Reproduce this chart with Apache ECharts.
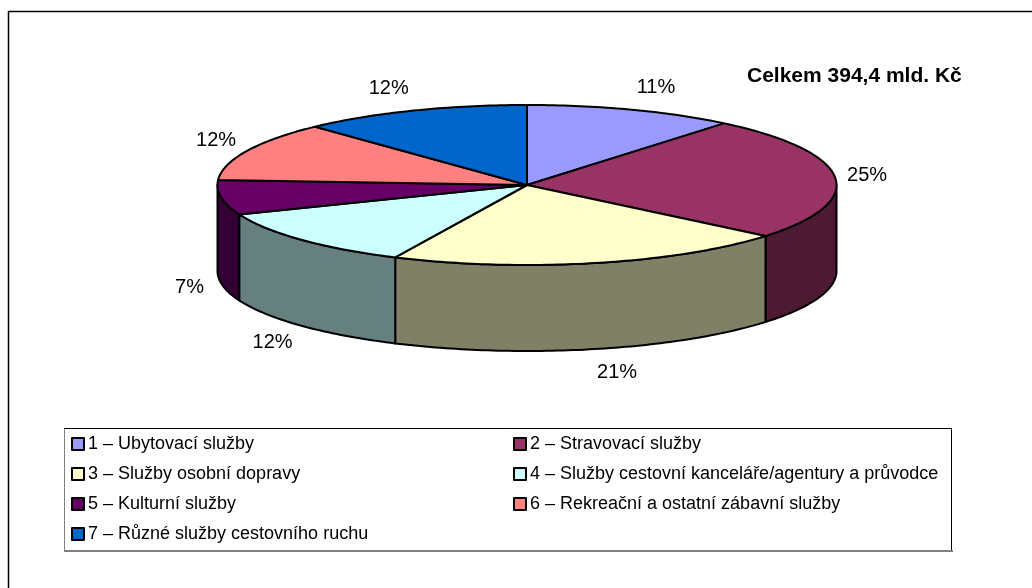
<!DOCTYPE html>
<html>
<head>
<meta charset="utf-8">
<script src="https://cdn.jsdelivr.net/npm/echarts@6/dist/echarts.min.js"></script>
<style>
html,body{margin:0;padding:0;background:#fff;}
#chart{width:1032px;height:588px;}
</style>
</head>
<body>
<div id="chart"></div>
<script>
// ---- data ----
const categories = [
  '1 – Ubytovací služby',
  '2 – Stravovací služby',
  '3 – Služby osobní dopravy',
  '4 – Služby cestovní kanceláře/agentury a průvodce',
  '5 – Kulturní služby',
  '6 – Rekreační a ostatní zábavní služby',
  '7 – Různé služby cestovního ruchu'
];
const shares = [11, 25, 21, 12, 7, 12, 12];
const topColors = ['#9999FF', '#993366', '#FFFFCC', '#CCFFFF', '#660066', '#FF8080', '#0066CC'];
const sideColors = ['#4D4D80', '#4D1A33', '#808066', '#668080', '#330033', '#804040', '#003366'];
const totalLabel = 'Celkem 394,4 mld. Kč';

// ---- layout ----
const CX = 527, CY = 185, RX = 309.5, RY = 80, DEPTH = 86;
const FONT = '"Liberation Sans", Arial, sans-serif';

const total = shares.reduce((a, b) => a + b, 0);

function pt(deg, dy) {
  const r = deg * Math.PI / 180;
  return [CX + RX * Math.sin(r), CY - RY * Math.cos(r) + (dy || 0)];
}
function arc(a0, a1, dy) {
  const pts = [];
  const n = Math.max(2, Math.ceil((a1 - a0) / 1));
  for (let k = 0; k <= n; k++) pts.push(pt(a0 + (a1 - a0) * k / n, dy));
  return pts;
}

function renderItem(params, api) {
  const i = params.dataIndex;
  const v = api.value(0);
  let start = 0;
  for (let j = 0; j < i; j++) start += shares[j];
  const a0 = start / total * 360;
  const a1 = (start + v) / total * 360;
  const children = [];
  const s0 = Math.max(a0, 90), s1 = Math.min(a1, 270);
  if (s1 > s0) {
    const topArc = arc(s0, s1, 0);
    const botArc = arc(s0, s1, DEPTH).reverse();
    children.push({
      type: 'polygon', z2: 1,
      shape: { points: topArc.concat(botArc) },
      style: { fill: sideColors[i], stroke: '#000', lineWidth: 2, lineJoin: 'round' }
    });
  }
  children.push({
    type: 'polygon', z2: 2,
    shape: { points: [[CX, CY]].concat(arc(a0, a1, 0)) },
    style: { fill: topColors[i], stroke: '#000', lineWidth: 2, lineJoin: 'round' }
  });
  const mid = (a0 + a1) / 2 * Math.PI / 180;
  const s = Math.sin(mid), c = Math.cos(mid);
  const ax = CX + (RX + 12) * s;
  const ay = CY - (RY + 10) * c + (c < 0 ? DEPTH : 0);
  const lx = ax + 20 * Math.sign(s);
  const ly = ay - 14 * c;
  children.push({
    type: 'text', z2: 3,
    style: {
      text: Math.round(v / total * 100) + '%',
      x: lx, y: ly, align: 'center', verticalAlign: 'middle',
      fill: '#000', fontSize: 20, fontFamily: FONT
    }
  });
  return { type: 'group', children };
}

const chart = echarts.init(document.getElementById('chart'), null, { renderer: 'canvas' });

const legendBase = {
  orient: 'vertical',
  padding: 0,
  itemWidth: 12,
  itemHeight: 12,
  itemGap: 12,
  icon: 'rect',
  selectedMode: false,
  itemStyle: { borderColor: '#000', borderWidth: 2 },
  textStyle: { fontSize: 18, fontFamily: FONT, color: '#000', lineHeight: 18, padding: [0, 0, 0, -1] }
};

chart.setOption({
  animation: false,
  backgroundColor: '#fff',
  legend: [
    Object.assign({}, legendBase, { left: 71, top: 435, data: [categories[0], categories[2], categories[4], categories[6]] }),
    Object.assign({}, legendBase, { left: 513, top: 435, data: [categories[1], categories[3], categories[5]] })
  ],
  graphic: [
    { type: 'rect', shape: { x: 8.5, y: 11.5, width: 1100, height: 700 },
      style: { fill: 'none', stroke: '#000', lineWidth: 1.5 }, silent: true, z: -10 },
    { type: 'rect', shape: { x: 64.5, y: 428.5, width: 887, height: 122 },
      style: { fill: '#fff', stroke: '#808080', lineWidth: 1 }, silent: true, z: -5 },
    { type: 'polyline', shape: { points: [[64, 428.5], [951.5, 428.5], [951.5, 550]] },
      style: { stroke: '#000', lineWidth: 1, fill: 'none' }, silent: true, z: -4 },
    { type: 'line', shape: { x1: 64, y1: 551, x2: 953, y2: 551 },
      style: { stroke: '#808080', lineWidth: 2 }, silent: true, z: -4 },
    { type: 'text', left: 747, top: 66, silent: true,
      style: { text: totalLabel, fontSize: 21, fontWeight: 'bold', fontFamily: FONT, fill: '#000' } }
  ],
  series: [
    {
      type: 'custom',
      name: 'pie3d',
      coordinateSystem: 'none',
      silent: true,
      data: shares.map((v, i) => ({ value: [v], name: categories[i] })),
      renderItem: renderItem
    },
    {
      type: 'pie',
      name: 'legendProxy',
      center: [-500, -500],
      radius: 5,
      silent: true,
      label: { show: false },
      labelLine: { show: false },
      data: shares.map((v, i) => ({ value: v, name: categories[i], itemStyle: { color: topColors[i] } }))
    }
  ]
});
</script>
</body>
</html>
